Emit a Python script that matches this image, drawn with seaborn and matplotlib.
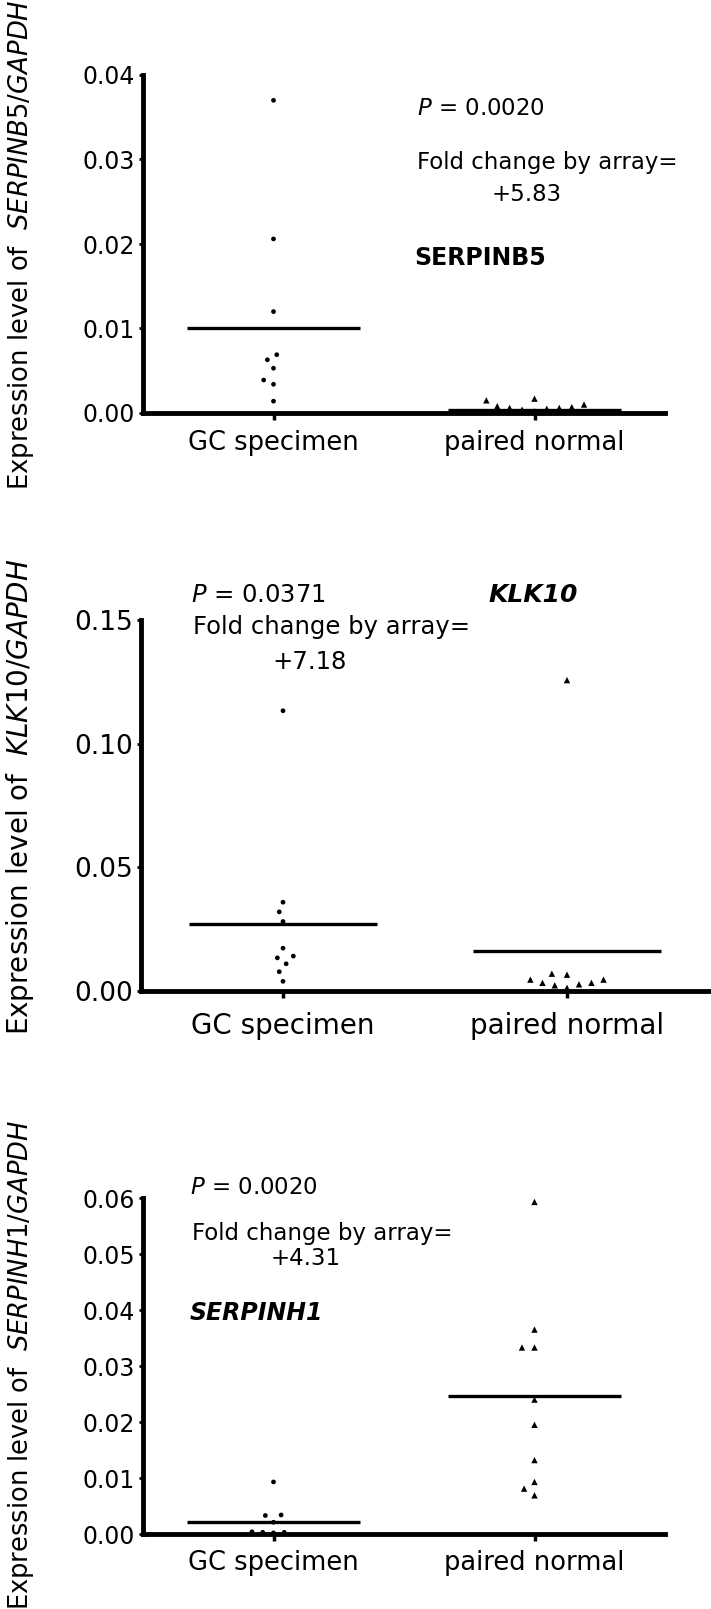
import numpy as np
import pandas as pd
import matplotlib
matplotlib.use('Agg')
import matplotlib.pyplot as plt
import seaborn as sns

sns.set_style('ticks')
plt.rcParams['font.family'] = ['DejaVu Sans']
plt.rcParams['mathtext.fontset'] = 'dejavusans'
for key in ['text.color', 'axes.labelcolor', 'xtick.color', 'ytick.color', 'axes.edgecolor']:
    plt.rcParams[key] = 'black'

groups = ['GC specimen', 'paired normal']

# SERPINB5 / GAPDH
serpinb5_gc = [0.0370, 0.0206, 0.0120, 0.0069, 0.0063, 0.0053, 0.0039, 0.0034, 0.0014]
serpinb5_normal = [0.0017, 0.0015, 0.0010, 0.0008, 0.0007, 0.0006, 0.0006, 0.0005, 0.0004, 0.0002]
serpinb5_lines = [0.0101, 0.0003]
serpinb5_ticks = [0.00, 0.01, 0.02, 0.03, 0.04]

# KLK10 / GAPDH
klk10_gc = [0.1133, 0.0359, 0.0320, 0.0281, 0.0173, 0.0141, 0.0134, 0.0110, 0.0078, 0.0039]
klk10_normal = [0.1257, 0.0070, 0.0066, 0.0046, 0.0046, 0.0033, 0.0033, 0.0027, 0.0023, 0.0013]
klk10_lines = [0.0270, 0.0161]
klk10_ticks = [0.00, 0.05, 0.10, 0.15]

# SERPINH1 / GAPDH
serpinh1_gc = [0.0093, 0.0034, 0.0033, 0.0021, 0.0004, 0.0003, 0.0003, 0.0002]
serpinh1_normal = [0.0593, 0.0365, 0.0333, 0.0333, 0.0240, 0.0195, 0.0132, 0.0093, 0.0081, 0.0069]
serpinh1_lines = [0.0022, 0.0246]
serpinh1_ticks = [0.00, 0.01, 0.02, 0.03, 0.04, 0.05, 0.06]

p_values = ['0.0020', '0.0371', '0.0020']
fold_changes = ['+5.83', '+7.18', '+4.31']

W, H = 711, 1609
fig = plt.figure(figsize=(W / 100, H / 100), dpi=100)


def add_axes(left, top, right, bottom):
    return fig.add_axes([left / W, 1 - bottom / H, (right - left) / W, (bottom - top) / H])


def swarm(ax, vals, group, marker, size):
    df = pd.DataFrame({'group': [group] * len(vals), 'value': vals})
    n0 = len(ax.collections)
    sns.swarmplot(data=df, x='group', y='value', order=groups, color='black',
                  marker=marker, size=size, ax=ax)
    for pts in ax.collections[n0:]:
        pts.set_linewidth(4)      # wider swarm spacing, like the GraphPad original
        pts.set_edgecolor('none')


def panel(ax, gc, normal, lines, ticks, ylabel, label_y, tick_fs, xt_fs, yl_fs, xpad):
    swarm(ax, gc, groups[0], 'o', 3.4)
    swarm(ax, normal, groups[1], '^', 4.6)
    xs = np.arange(len(groups))
    ax.hlines(lines, xs - 0.33, xs + 0.33, color='black', lw=2.4, zorder=3)
    ax.set_xlim(-0.5, 1.5)
    ax.set_ylim(ticks[0], ticks[-1])
    ax.set_yticks(ticks)
    ax.set_yticklabels([f'{t:.2f}' for t in ticks])
    ax.set_xlabel('')
    sns.despine(ax=ax)
    for s in ['left', 'bottom']:
        ax.spines[s].set_linewidth(3.5)
    ax.tick_params(axis='y', length=3, width=2, labelsize=tick_fs, pad=3)
    ax.tick_params(axis='x', length=5, width=2.5, labelsize=xt_fs, pad=xpad)
    ax.set_ylabel(ylabel, fontsize=yl_fs)
    ax.yaxis.set_label_coords(36 / W, 1 - label_y / H, transform=fig.transFigure)


# ---- panel 1: SERPINB5
ax1 = add_axes(143, 75, 665, 413)
panel(ax1, serpinb5_gc, serpinb5_normal, serpinb5_lines, serpinb5_ticks,
      r'Expression level of  $\mathit{SERPINB5/GAPDH}$', 245, 17, 18.5, 18.6, 7)
ax1.text(0.55, 0.0360, r'$\mathit{P}$ = ' + p_values[0], fontsize=16.5, va='center')
ax1.text(0.55, 0.0296, 'Fold change by array=', fontsize=16.5, va='center')
ax1.text(0.97, 0.0258, fold_changes[0], fontsize=16.5, va='center', ha='center')
ax1.text(0.54, 0.0183, 'SERPINB5', fontsize=17, fontweight='bold', va='center')

# ---- panel 2: KLK10
ax2 = add_axes(141, 620, 709, 991)
panel(ax2, klk10_gc, klk10_normal, klk10_lines, klk10_ticks,
      r'Expression level of  $\mathit{KLK10/GAPDH}$', 797, 19, 20, 20, 10)
ax2.text(-0.324, 0.1600, r'$\mathit{P}$ = ' + p_values[1], fontsize=17.5, va='center')
ax2.text(-0.317, 0.1470, 'Fold change by array=', fontsize=17.5, va='center')
ax2.text(0.095, 0.1330, fold_changes[1], fontsize=17.5, va='center', ha='center')
ax2.text(0.725, 0.1600, 'KLK10', fontsize=18, fontweight='bold', fontstyle='italic', va='center')

# ---- panel 3: SERPINH1
ax3 = add_axes(143, 1198, 665, 1534)
panel(ax3, serpinh1_gc, serpinh1_normal, serpinh1_lines, serpinh1_ticks,
      r'Expression level of  $\mathit{SERPINH1/GAPDH}$', 1365, 17, 18.5, 18.5, 6.5)
ax3.text(-0.321, 0.0618, r'$\mathit{P}$ = ' + p_values[2], fontsize=16.5, va='center')
ax3.text(-0.312, 0.0537, 'Fold change by array=', fontsize=16.5, va='center')
ax3.text(0.125, 0.0492, fold_changes[2], fontsize=16.5, va='center', ha='center')
ax3.text(-0.321, 0.0395, 'SERPINH1', fontsize=17, fontweight='bold', fontstyle='italic', va='center')

fig.savefig('out.png', dpi=100)
